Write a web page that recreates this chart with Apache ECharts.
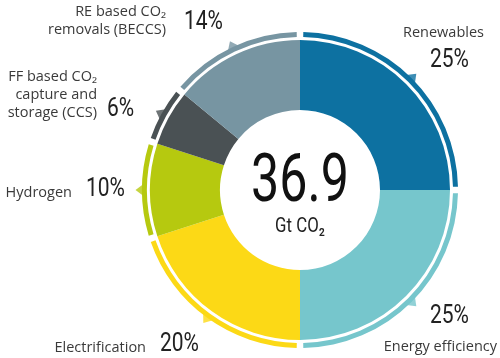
<!DOCTYPE html>
<html>
<head>
<meta charset="utf-8">
<script src="https://cdn.jsdelivr.net/npm/echarts@6/dist/echarts.min.js"></script>
<style>
html,body{margin:0;padding:0;background:#fff;}
#chart{width:500px;height:358px;}
</style>
</head>
<body>
<div id="chart"></div>
<script>
// ---- data ----
const categories = ['Renewables', 'Energy efficiency', 'Electrification', 'Hydrogen',
  'FF based CO₂ capture and storage (CCS)', 'RE based CO₂ removals (BECCS)'];
const shares = [25, 25, 20, 10, 6, 14];
const labelLines = [
  ['Renewables'],
  ['Energy efficiency'],
  ['Electrification'],
  ['Hydrogen'],
  ['FF based CO₂', 'capture and', 'storage (CCS)'],
  ['RE based CO₂', 'removals (BECCS)']
];
const totalValue = '36.9';
const totalUnit = 'Gt CO₂';

// ---- styles ----
const colors = ['#0d71a1', '#76c6cc', '#fcd916', '#b6c90f', '#4a5154', '#7795a2'];
const CX = 300, CY = 190;
const labelFont = '"Open Sans", sans-serif';
const numFont = 'Roboto, sans-serif';

// label layout (name block + percentage)
const layout = [
  {nx: 484, ny: 33, nAlign: 'right', px: 430, py: 61, pAlign: 'left'},
  {nx: 497, ny: 347, nAlign: 'right', px: 430, py: 317, pAlign: 'left'},
  {nx: 146, ny: 348, nAlign: 'right', px: 160, py: 345, pAlign: 'left'},
  {nx: 72, ny: 193, nAlign: 'right', px: 86, py: 190, pAlign: 'left'},
  {nx: 97, ny: 77, nAlign: 'right', px: 107, py: 110, pAlign: 'left'},
  {nx: 166, ny: 12, nAlign: 'right', px: 184, py: 23, pAlign: 'left'}
];

const pieData = categories.map((c, i) => ({name: c, value: shares[i], itemStyle: {color: colors[i]}}));

// notch positions at the middle of each ring segment
let cum = 0;
const notchData = shares.map((v, i) => {
  const mid = cum + v / 2;
  cum += v;
  return {value: [160.5, mid], itemStyle: {color: colors[i]}, symbolRotate: -mid / 100 * 360};
});

const graphics = [];
categories.forEach((c, i) => {
  const L = layout[i];
  const lines = labelLines[i];
  const lh = 18;
  lines.forEach((t, k) => {
    graphics.push({
      type: 'text', x: L.nx, y: L.ny + k * lh,
      style: {text: t, font: '14.5px ' + labelFont, fill: '#3a3a3a', textAlign: L.nAlign, textVerticalAlign: 'middle'}
    });
  });
  graphics.push({
    type: 'text', x: L.px, y: L.py, scaleX: 0.84,
    style: {text: shares[i] + '%', font: '400 25px ' + numFont, fill: '#222', textAlign: L.pAlign, textVerticalAlign: 'middle'}
  });
});
graphics.push({
  type: 'text', x: CX, y: 184, scaleX: 0.76,
  style: {text: totalValue, font: '400 66px ' + numFont, fill: '#111', textAlign: 'center', textVerticalAlign: 'middle'}
});
graphics.push({
  type: 'text', x: CX, y: 227, scaleX: 0.8,
  style: {text: totalUnit, font: '400 21px ' + numFont, fill: '#222', textAlign: 'center', textVerticalAlign: 'middle'}
});

const chart = echarts.init(document.getElementById('chart'), null, {renderer: 'canvas'});
chart.setOption({
  animation: false,
  backgroundColor: '#fff',
  polar: {center: [CX, CY], radius: 170},
  angleAxis: {type: 'value', min: 0, max: 100, startAngle: 90, clockwise: true, show: false},
  radiusAxis: {type: 'value', min: 0, max: 170, show: false},
  series: [
    {
      type: 'pie', center: [CX, CY], radius: [80, 150], startAngle: 90, clockwise: true,
      silent: true, label: {show: false}, labelLine: {show: false}, data: pieData
    },
    {
      type: 'pie', center: [CX, CY], radius: [153, 158], startAngle: 90, clockwise: true,
      padAngle: 2.4, silent: true, label: {show: false}, labelLine: {show: false}, data: pieData
    },
    {
      type: 'scatter', coordinateSystem: 'polar', symbol: 'triangle', symbolSize: [12, 8],
      silent: true, data: notchData
    }
  ],
  graphic: graphics
});
</script>
</body>
</html>
